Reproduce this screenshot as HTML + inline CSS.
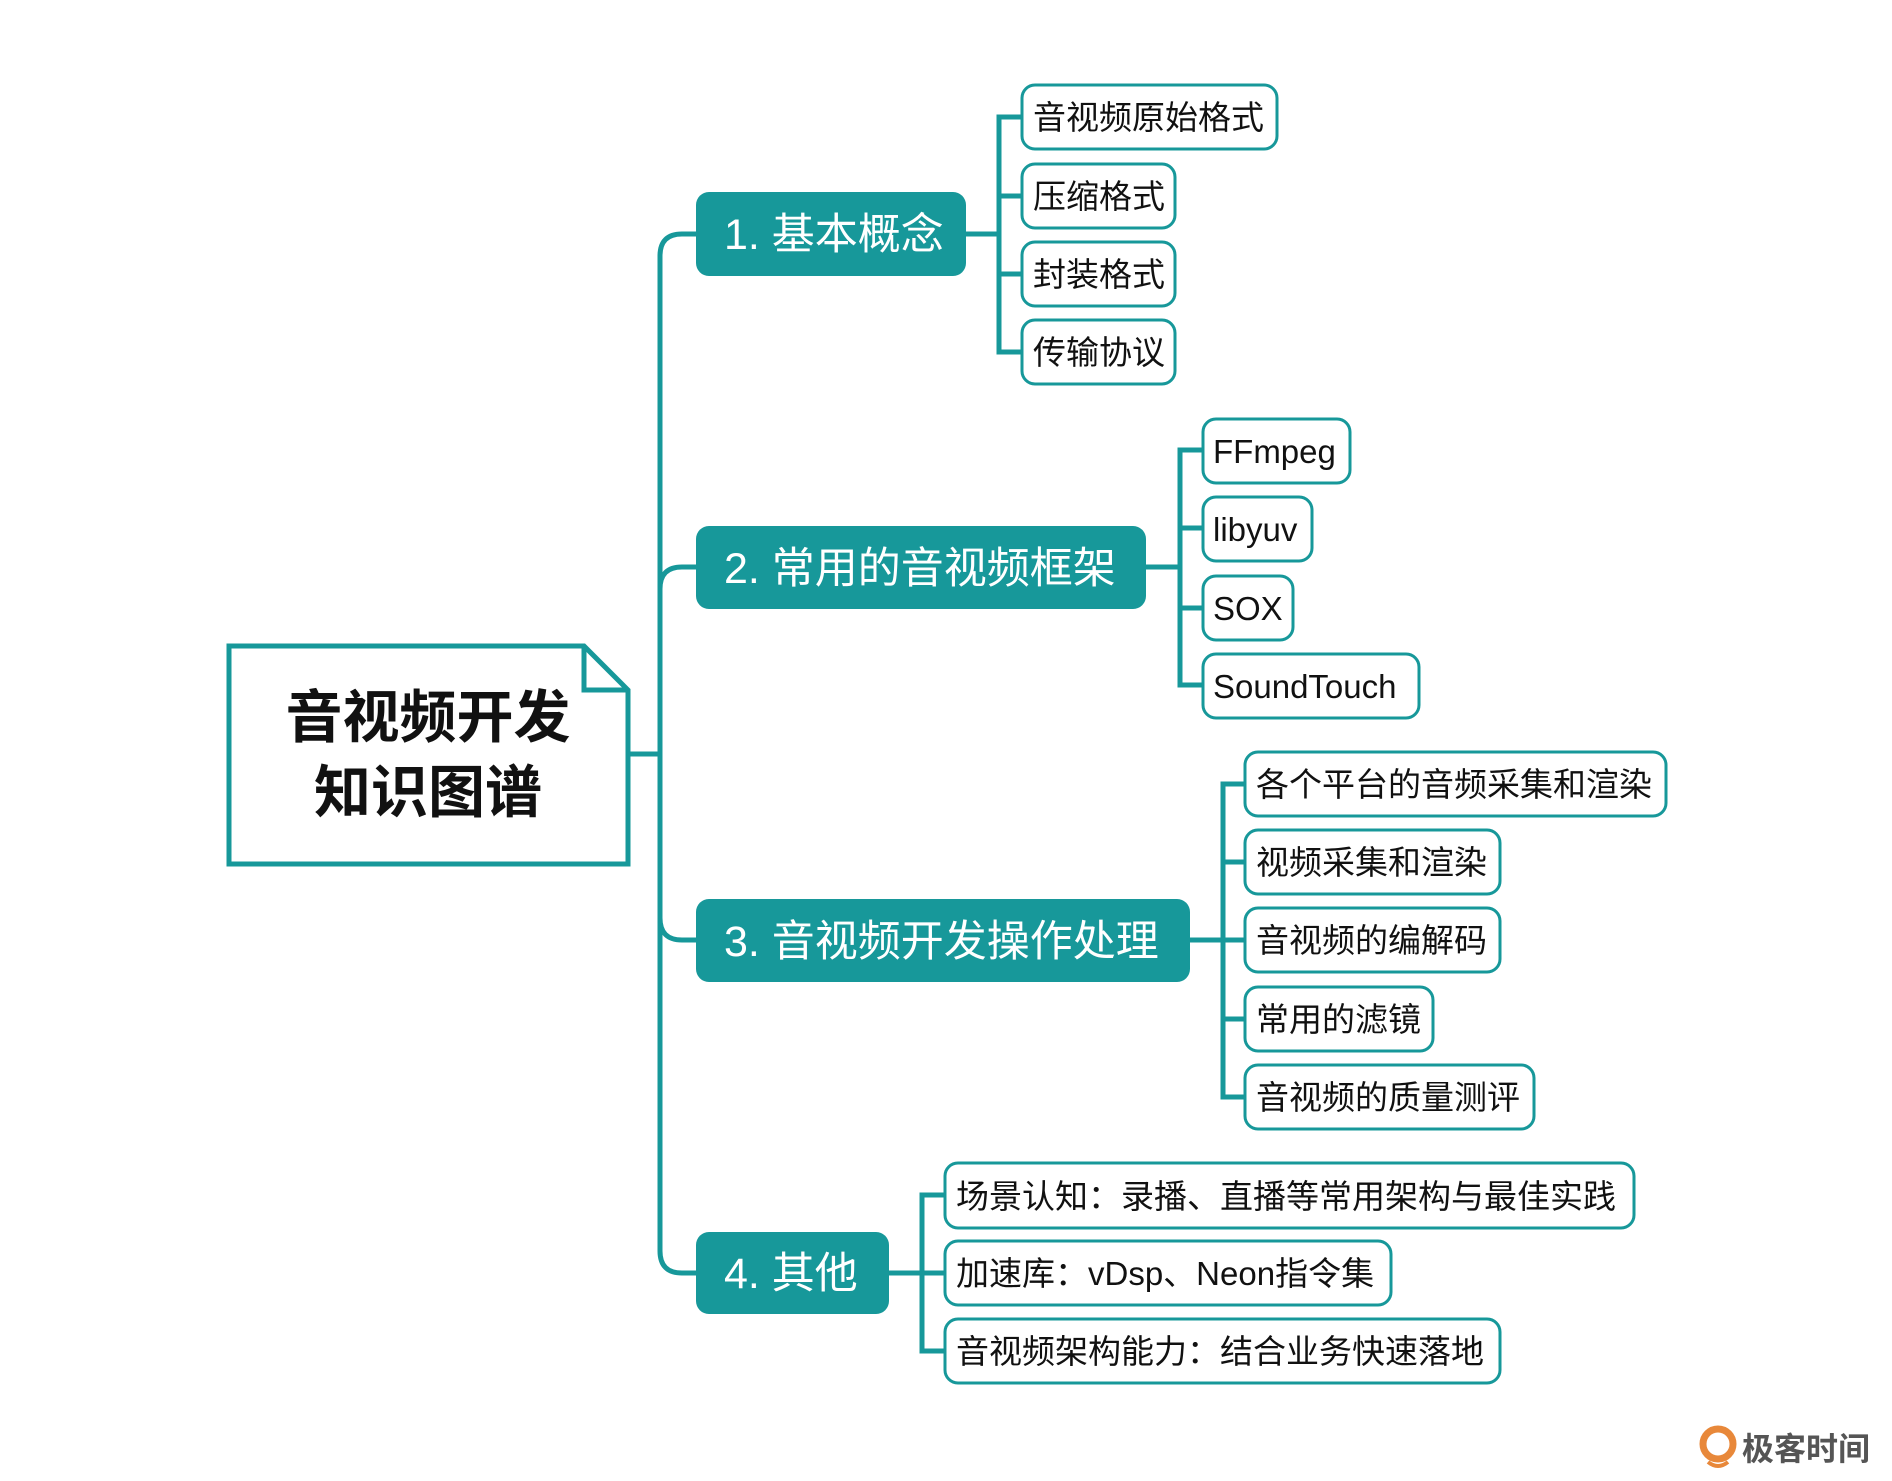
<!DOCTYPE html>
<html><head><meta charset="utf-8"><style>
html,body{margin:0;padding:0;background:#fff;}
svg{display:block;}
text{font-family:"Liberation Sans","Noto Sans CJK SC",sans-serif;}
</style></head><body>
<svg width="1892" height="1481" viewBox="0 0 1892 1481" xmlns="http://www.w3.org/2000/svg">
<g fill="none" stroke="#17989a" stroke-width="5">
  <path d="M696 234 H682 Q660 234 660 256 V1251 Q660 1273 682 1273 H696"/>
  <path d="M696 567 H682 Q660 567 660 589"/>
  <path d="M696 940 H682 Q660 940 660 918"/>
  <path d="M630 754 H660"/>
  <path d="M966 234 H999"/>
  <path d="M1022 117 H999 V352 H1022"/>
  <path d="M999 196 H1022 M999 274 H1022"/>
  <path d="M1146 567 H1180"/>
  <path d="M1203 450 H1180 V685 H1203"/>
  <path d="M1180 528 H1203 M1180 608 H1203"/>
  <path d="M1190 940 H1223"/>
  <path d="M1245 784 H1223 V1097 H1245"/>
  <path d="M1223 862 H1245 M1223 940 H1245 M1223 1019 H1245"/>
  <path d="M889 1273 H922"/>
  <path d="M945 1195 H922 V1351 H945"/>
  <path d="M922 1273 H945"/>
</g>
<path d="M229 646 H584 L628 690 V864 H229 Z" fill="#fff" stroke="#17989a" stroke-width="5"/>
<path d="M584 646 V690 H628" fill="none" stroke="#17989a" stroke-width="5"/>
<text x="428" y="737" font-size="57" font-weight="bold" text-anchor="middle" fill="#111">音视频开发</text>
<text x="428" y="812" font-size="57" font-weight="bold" text-anchor="middle" fill="#111">知识图谱</text>
<g fill="#17989a">
  <rect x="696" y="192" width="270" height="84" rx="13"/>
  <rect x="696" y="526" width="450" height="83" rx="13"/>
  <rect x="696" y="899" width="494" height="83" rx="13"/>
  <rect x="696" y="1232" width="193" height="82" rx="13"/>
</g>
<g fill="#fff" font-size="43">
  <text x="724" y="249">1. 基本概念</text>
  <text x="724" y="583">2. 常用的音视频框架</text>
  <text x="724" y="956">3. 音视频开发操作处理</text>
  <text x="724" y="1288">4. 其他</text>
</g>
<g fill="#fff" stroke="#17989a" stroke-width="3">
  <rect x="1022" y="85" width="255" height="64" rx="13"/>
  <rect x="1022" y="164" width="153" height="64" rx="13"/>
  <rect x="1022" y="242" width="153" height="64" rx="13"/>
  <rect x="1022" y="320" width="153" height="64" rx="13"/>
  <rect x="1203" y="419" width="147" height="64" rx="13"/>
  <rect x="1203" y="497" width="109" height="64" rx="13"/>
  <rect x="1203" y="576" width="90" height="64" rx="13"/>
  <rect x="1203" y="654" width="216" height="64" rx="13"/>
  <rect x="1245" y="752" width="421" height="64" rx="13"/>
  <rect x="1245" y="830" width="255" height="64" rx="13"/>
  <rect x="1245" y="908" width="255" height="64" rx="13"/>
  <rect x="1245" y="987" width="188" height="64" rx="13"/>
  <rect x="1245" y="1065" width="289" height="64" rx="13"/>
  <rect x="945" y="1163" width="689" height="65" rx="13"/>
  <rect x="945" y="1241" width="446" height="64" rx="13"/>
  <rect x="945" y="1319" width="555" height="64" rx="13"/>
</g>
<g fill="#111" font-size="33">
  <text x="1033" y="129">音视频原始格式</text>
  <text x="1033" y="208">压缩格式</text>
  <text x="1033" y="286">封装格式</text>
  <text x="1033" y="364">传输协议</text>
  <text x="1213" y="463">FFmpeg</text>
  <text x="1213" y="541">libyuv</text>
  <text x="1213" y="620">SOX</text>
  <text x="1213" y="698">SoundTouch</text>
  <text x="1256" y="796">各个平台的音频采集和渲染</text>
  <text x="1256" y="874">视频采集和渲染</text>
  <text x="1256" y="952">音视频的编解码</text>
  <text x="1256" y="1031">常用的滤镜</text>
  <text x="1256" y="1109">音视频的质量测评</text>
  <text x="956" y="1208">场景认知：录播、直播等常用架构与最佳实践</text>
  <text x="956" y="1285">加速库：vDsp、Neon指令集</text>
  <text x="956" y="1363">音视频架构能力：结合业务快速落地</text>
</g>
<circle cx="1718" cy="1444" r="15" fill="none" stroke="#e8883a" stroke-width="7"/>
<path d="M1708 1462 Q1718 1470 1728 1462" fill="none" stroke="#e8883a" stroke-width="4"/>
<text x="1742" y="1460" font-size="32" font-weight="bold" fill="#555">极客时间</text>
</svg>
</body></html>
